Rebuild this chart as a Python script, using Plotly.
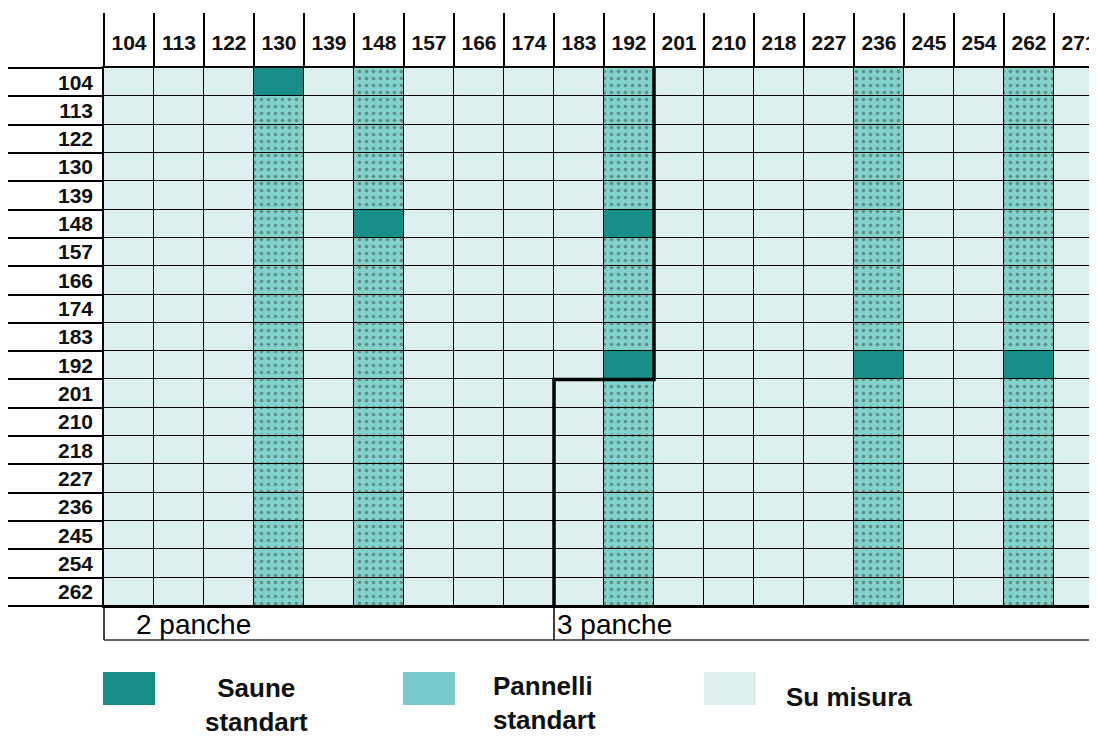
import plotly.graph_objects as go

# ---- data ----
col_labels = ["104", "113", "122", "130", "139", "148", "157", "166", "174", "183",
              "192", "201", "210", "218", "227", "236", "245", "254", "262", "271"]
row_labels = ["104", "113", "122", "130", "139", "148", "157", "166", "174", "183",
              "192", "201", "210", "218", "227", "236", "245", "254", "262"]
pannelli_cols = ["130", "148", "192", "236", "262"]
saune_cells = [("130", "104"), ("148", "148"), ("192", "148"),
               ("192", "192"), ("236", "192"), ("262", "192")]
legend_names = ["Saune<br>standart", "Pannelli<br>standart", "Su misura"]
zone_labels = ["2 panche", "3 panche"]
zone_start_col = "183"      # 3 panche zone starts here
step_col = "192"            # boundary column of the step line
step_row = "192"            # boundary row of the step line

# ---- style ----
C_SAUNE = "#178F88"
C_PAN_BG = "#80D2CA"
C_PAN_DOT = "#47B2E0"
C_MISURA = "#DDF0EF"
FONT = "Liberation Sans, Arial, sans-serif"

OFF = 8                      # page body margin
W, H = 1097, 738 - OFF
L, R, T, B = 104 - OFF, 0, 68 - OFF, H - (606 - OFF)
PW = W - L - R
PH = H - T - B
ncol = len(col_labels)
nrow = len(row_labels)
col_w = 50.0
x_max = -0.5 + PW / col_w


def px_x(px):
    return (px - OFF - L) / PW


def px_y(py):
    return (H - B - (py - OFF)) / PH


fig = go.Figure()
for r, rl in enumerate(row_labels):
    colors, shapes_, fg = [], [], []
    for cl in col_labels:
        if (cl, rl) in saune_cells:
            colors.append(C_SAUNE); shapes_.append(""); fg.append(C_SAUNE)
        elif cl in pannelli_cols:
            colors.append(C_PAN_BG); shapes_.append("."); fg.append(C_PAN_DOT)
        else:
            colors.append(C_MISURA); shapes_.append(""); fg.append(C_MISURA)
    fig.add_trace(go.Bar(
        x=list(range(ncol)), y=[1] * ncol, width=1,
        marker=dict(color=colors, line=dict(color="black", width=1.5),
                    pattern=dict(shape=shapes_, fgcolor=fg,
                                 size=7, solidity=0.2, fillmode="overlay")),
        showlegend=False, hoverinfo="skip", name=rl))

fig.update_layout(
    width=W, height=H, barmode="stack", bargap=0,
    margin=dict(l=L, r=R, t=T, b=B, pad=0),
    paper_bgcolor="white", plot_bgcolor="white",
    font=dict(family=FONT, color="black"),
)
fig.update_xaxes(
    range=[-0.5, x_max], side="top", showgrid=False, zeroline=False,
    tickmode="array", tickvals=list(range(ncol)),
    ticktext=["<b>%s</b>" % c for c in col_labels],
    tickfont=dict(size=21, family=FONT, color="#111"),
    ticks="outside", ticklen=8, tickcolor="rgba(0,0,0,0)",
    showline=True, linecolor="black", linewidth=1.5, mirror=True,
    minor=dict(tickmode="array", tickvals=[k - 0.5 for k in range(ncol + 1)],
               ticks="outside", ticklen=53, tickcolor="black", tickwidth=1.5, showgrid=False),
    fixedrange=True,
)
fig.update_yaxes(
    range=[nrow, 0], showgrid=False, zeroline=False,
    tickmode="array", tickvals=[i + 0.5 for i in range(nrow)],
    ticktext=["<b>%s</b>" % r for r in row_labels],
    tickfont=dict(size=21, family=FONT, color="#111"),
    ticks="outside", ticklen=5, tickcolor="rgba(0,0,0,0)",
    showline=True, linecolor="black", linewidth=1.5,
    minor=dict(tickmode="array", tickvals=list(range(nrow + 1)),
               ticks="outside", ticklen=94, tickcolor="black", tickwidth=1.5, showgrid=False),
    fixedrange=True,
)

# step line separating the zones
sx = col_labels.index(step_col) + 0.5
zx = col_labels.index(zone_start_col) - 0.5
sy = row_labels.index(step_row) + 1
fig.add_shape(type="path", xref="x", yref="y",
              path=f"M {sx},0 L {sx},{sy} L {zx},{sy} L {zx},{nrow}",
              line=dict(color="black", width=3.5), layer="above")

# zone row below the grid
zone_top, zone_bot = px_y(606), px_y(640)
fig.add_shape(type="line", xref="paper", yref="paper", x0=0, x1=0, y0=zone_top, y1=zone_bot,
              line=dict(color="black", width=1.5))
fig.add_shape(type="line", xref="paper", yref="paper", x0=0, x1=1, y0=zone_bot, y1=zone_bot,
              line=dict(color="#333", width=1.5))
fig.add_shape(type="line", xref="x", yref="paper", x0=zx, x1=zx, y0=zone_top, y1=zone_bot,
              line=dict(color="black", width=1.5))
fig.add_annotation(text=zone_labels[0], xref="paper", yref="paper", x=px_x(134), y=px_y(624),
                   xanchor="left", yanchor="middle", showarrow=False,
                   font=dict(size=28, family=FONT, color="black"))
fig.add_annotation(text=zone_labels[1], xref="x", yref="paper", x=zx, xshift=1, y=px_y(624),
                   xanchor="left", yanchor="middle", showarrow=False,
                   font=dict(size=28, family=FONT, color="black"))

# legend
sw = [(103, C_SAUNE), (403, "#76CACB"), (704, C_MISURA)]
for (x0, c) in sw:
    fig.add_shape(type="rect", xref="paper", yref="paper",
                  x0=px_x(x0), x1=px_x(x0 + 52), y0=px_y(672), y1=px_y(705),
                  fillcolor=c, line=dict(width=0))
fig.add_annotation(text="<b>%s</b>" % legend_names[0], xref="paper", yref="paper",
                   x=px_x(256), y=px_y(705), xanchor="center", yanchor="middle", align="center",
                   showarrow=False, font=dict(size=26, family=FONT, color="#111"))
fig.add_annotation(text="<b>%s</b>" % legend_names[1], xref="paper", yref="paper",
                   x=px_x(491), y=px_y(703), xanchor="left", yanchor="middle", align="left",
                   showarrow=False, font=dict(size=26, family=FONT, color="#111"))
fig.add_annotation(text="<b>%s</b>" % legend_names[2], xref="paper", yref="paper",
                   x=px_x(784), y=px_y(697), xanchor="left", yanchor="middle", align="left",
                   showarrow=False, font=dict(size=26, family=FONT, color="#111"))

fig.write_html("out.html")
